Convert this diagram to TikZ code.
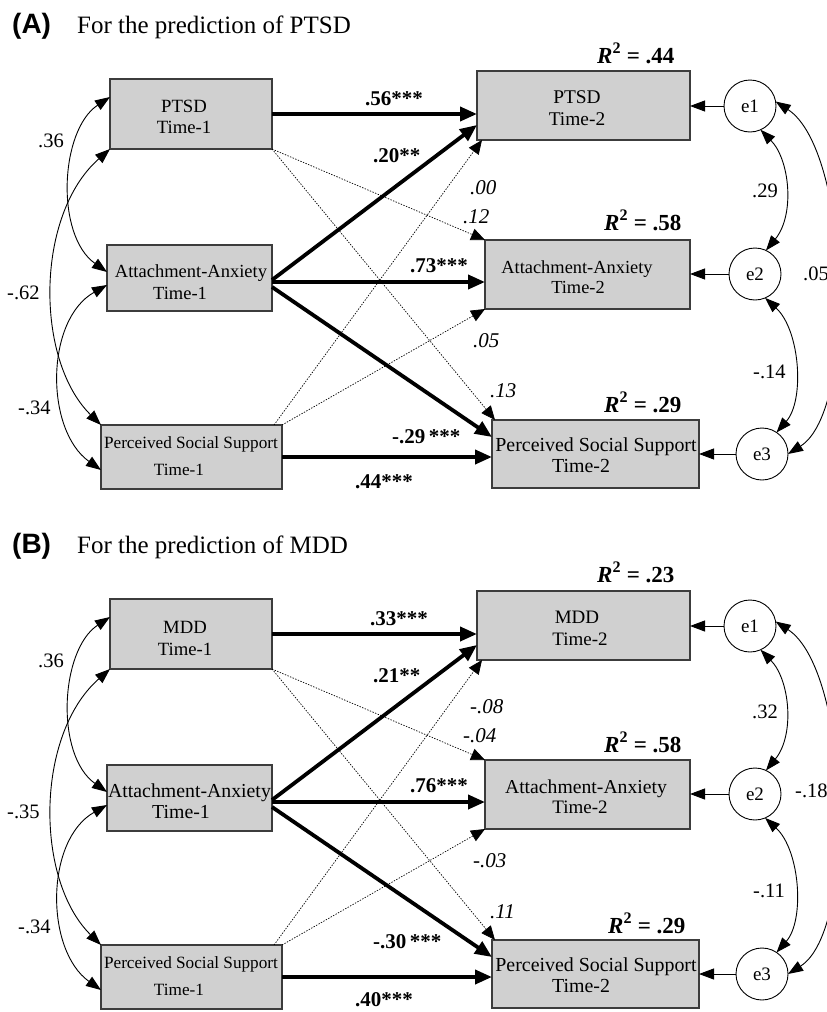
\documentclass[tikz,border=0pt]{standalone}
\usepackage{fontspec}
\setmainfont{Liberation Serif}
\newfontfamily\hvfont{Liberation Sans}
\usetikzlibrary{arrows.meta,calc}
\definecolor{boxfill}{RGB}{208,208,208}
\definecolor{boxline}{RGB}{60,60,60}
\tikzset{
 box/.style={draw=boxline, fill=boxfill, line width=1.2pt, inner sep=0pt, outer sep=0pt},
 err/.style={draw=black, line width=0.9pt, circle, minimum size=52pt, inner sep=0pt, outer sep=0pt, font=\fontsize{19}{19}\selectfont},
 txt/.style={anchor=base, inner sep=0pt, font=\fontsize{#1}{#1}\selectfont},
 lab/.style={anchor=base west, inner sep=0pt, font=\fontsize{#1}{#1}\selectfont},
 thickarr/.style={line width=3.8pt, -{Triangle[length=17pt,width=14pt]}},
 thinarr/.style={line width=0.9pt, -{Triangle[length=15pt,width=11pt]}},
 dotarr/.style={line width=0.7pt, dash pattern=on 1.4pt off 1.4pt, -{Triangle[length=14pt,width=12pt]}},
 corr/.style={line width=0.9pt, {Triangle[length=15pt,width=11pt]}-{Triangle[length=15pt,width=11pt]}},
}
\begin{document}
\begin{tikzpicture}[x=1pt,y=-1pt]
\useasboundingbox (0,0) rectangle (827,1012);
% ================= Panel A =================
\node[lab=28] (tA) at (12,33) {\hvfont\bfseries (A)};
\node[lab=25] (tAt) at (77,33) {For the prediction of PTSD};
% boxes
\node[box, minimum width=162pt, minimum height=70pt] (P1) at (191,114) {};
\node[box, minimum width=165pt, minimum height=66pt] (A1) at (189.5,278) {};
\node[box, minimum width=181pt, minimum height=64pt] (S1) at (191.5,457) {};
\node[box, minimum width=213pt, minimum height=69pt] (P2) at (583.5,105.5) {};
\node[box, minimum width=205pt, minimum height=69pt] (A2) at (587.5,274.5) {};
\node[box, minimum width=207pt, minimum height=68pt] (S2) at (595.5,454) {};
\node[txt=18.7] (P1a) at (184,112) {PTSD};
\node[txt=18.7] (P1b) at (184,133) {Time-1};
\node[txt=18.5] (A1a) at (191,277) {Attachment-Anxiety};
\node[txt=18.5] (A1b) at (180,299) {Time-1};
\node[txt=17.2] (S1a) at (191,448) {Perceived Social Support};
\node[txt=17.2] (S1b) at (179,475) {Time-1};
\node[txt=19.4] (P2a) at (577,103) {PTSD};
\node[txt=19.4] (P2b) at (577,125) {Time-2};
\node[txt=18.4] (A2a) at (577,273) {Attachment-Anxiety};
\node[txt=18.4] (A2b) at (578,293) {Time-2};
\node[txt=19.9] (S2a) at (596,451) {Perceived Social Support};
\node[txt=19.9] (S2b) at (581,472) {Time-2};
% error terms
\node[err] (e1) at (750,106) {e1};
\node[err] (e2) at (755,274) {e2};
\node[err] (e3) at (762,454) {e3};
% paths
\draw[thickarr] (P1.east) -- (P1.east -| P2.west);
\draw[thickarr] ([yshift=-2pt]A1.east) -- ([yshift=-19.5pt]P2.west);
\draw[thickarr] ([yshift=-4pt]A1.east) -- ([yshift=-4pt]A1.east -| A2.west);
\draw[thickarr] ([yshift=-9pt]A1.east) -- ([yshift=17pt]S2.west);
\draw[thickarr] (S1.east) -- (S1.east -| S2.west);
\draw[dotarr] (P1.south east) -- (A2.north west);
\draw[dotarr] (P1.south east) -- ([xshift=3pt]S2.north west);
\draw[dotarr] ([xshift=-8pt]S1.north east) -- ([xshift=5pt]P2.south west);
\draw[dotarr] (S1.north east) -- (A2.south west);
\draw[thinarr] (e1.west) -- (e1.west -| P2.east);
\draw[thinarr] (e2.west) -- (e2.west -| A2.east);
\draw[thinarr] (e3.west) -- (e3.west -| S2.east);
% correlations
\draw[corr] ([yshift=17pt]P1.west) .. controls (60,130) and (55,235) .. ([yshift=6pt]A1.west);
\draw[corr] (P1.south west) .. controls (35,215) and (35,360) .. (S1.north west);
\draw[corr] ([yshift=-7pt]A1.west) .. controls (45,320) and (45,430) .. ([yshift=-13pt]S1.west);
\draw[corr] (e1.-66) .. controls (790,160) and (795,215) .. (e2.65);
\draw[corr] (e2.-67) .. controls (800,330) and (805,400) .. (e3.56);
\draw[corr] (e1.10) .. controls (850,150) and (858,410) .. (e3.0);
% labels
\node[lab=21] (l56) at (365,105) {\bfseries .56***};
\node[lab=21] (l20) at (373,162) {\bfseries .20**};
\node[lab=21] (l73) at (410,272) {\bfseries .73***};
\node[lab=21] (l29) at (392,443) {\bfseries -.29\,***};
\node[lab=21] (l44) at (355,488) {\bfseries .44***};
\node[lab=21] (i00) at (470,194) {\itshape .00};
\node[lab=21] (i12) at (463,223) {\itshape .12};
\node[lab=21] (i05) at (473,347) {\itshape .05};
\node[lab=21] (i13) at (490,397) {\itshape .13};
\node[lab=20.5] (c36) at (38,147) {.36};
\node[lab=20.5] (c62) at (7,299) {-.62};
\node[lab=20.5] (c34) at (18,414) {-.34};
\node[lab=20.5] (c29) at (752,197) {.29};
\node[lab=20.5] (c14) at (753,378) {-.14};
\node[lab=20.5] (c05) at (803,280) {.05};
\node[lab=23] (r44) at (597,63) {\bfseries\textit{R}\textsuperscript{2} = .44};
\node[lab=23] (r58) at (604,230) {\bfseries\textit{R}\textsuperscript{2} = .58};
\node[lab=23] (r29) at (604,412) {\bfseries\textit{R}\textsuperscript{2} = .29};
% ================= Panel B =================
\begin{scope}[shift={(0,520)}]
\node[lab=28] (tB) at (12,33) {\hvfont\bfseries (B)};
\node[lab=25] (tBt) at (77,33) {For the prediction of MDD};
\node[box, minimum width=162pt, minimum height=70pt] (P1b) at (191,114) {};
\node[box, minimum width=165pt, minimum height=66pt] (A1b) at (189.5,278) {};
\node[box, minimum width=181pt, minimum height=64pt] (S1b) at (191.5,457) {};
\node[box, minimum width=213pt, minimum height=69pt] (P2b) at (583.5,105.5) {};
\node[box, minimum width=205pt, minimum height=69pt] (A2b) at (587.5,274.5) {};
\node[box, minimum width=207pt, minimum height=68pt] (S2b) at (595.5,454) {};
\node[txt=18.7] (P1ba) at (185,113) {MDD};
\node[txt=18.7] (P1bb) at (185,135) {Time-1};
\node[txt=19.8] (A1ba) at (189.5,277) {Attachment-Anxiety};
\node[txt=19.8] (A1bb) at (181,298) {Time-1};
\node[txt=17.2] (S1ba) at (191,448) {Perceived Social Support};
\node[txt=17.2] (S1bb) at (179,475) {Time-1};
\node[txt=19] (P2ba) at (577,103) {MDD};
\node[txt=19] (P2bb) at (580,125) {Time-2};
\node[txt=19.7] (A2ba) at (586,273) {Attachment-Anxiety};
\node[txt=19] (A2bb) at (580,293) {Time-2};
\node[txt=19.9] (S2ba) at (596,451) {Perceived Social Support};
\node[txt=19.9] (S2bb) at (581,472) {Time-2};
\node[err] (e1b) at (750,106) {e1};
\node[err] (e2b) at (755,274) {e2};
\node[err] (e3b) at (762,454) {e3};
\draw[thickarr] (P1b.east) -- (P1b.east -| P2b.west);
\draw[thickarr] ([yshift=-2pt]A1b.east) -- ([yshift=-19.5pt]P2b.west);
\draw[thickarr] ([yshift=-4pt]A1b.east) -- ([yshift=-4pt]A1b.east -| A2b.west);
\draw[thickarr] ([yshift=-9pt]A1b.east) -- ([yshift=17pt]S2b.west);
\draw[thickarr] (S1b.east) -- (S1b.east -| S2b.west);
\draw[dotarr] (P1b.south east) -- (A2b.north west);
\draw[dotarr] (P1b.south east) -- ([xshift=3pt]S2b.north west);
\draw[dotarr] ([xshift=-8pt]S1b.north east) -- ([xshift=5pt]P2b.south west);
\draw[dotarr] (S1b.north east) -- (A2b.south west);
\draw[thinarr] (e1b.west) -- (e1b.west -| P2b.east);
\draw[thinarr] (e2b.west) -- (e2b.west -| A2b.east);
\draw[thinarr] (e3b.west) -- (e3b.west -| S2b.east);
\draw[corr] ([yshift=17pt]P1b.west) .. controls (60,130) and (55,235) .. ([yshift=6pt]A1b.west);
\draw[corr] (P1b.south west) .. controls (35,215) and (35,360) .. (S1b.north west);
\draw[corr] ([yshift=-7pt]A1b.west) .. controls (45,320) and (45,430) .. ([yshift=-13pt]S1b.west);
\draw[corr] (e1b.-66) .. controls (790,160) and (795,215) .. (e2b.65);
\draw[corr] (e2b.-67) .. controls (800,330) and (805,400) .. (e3b.56);
\draw[corr] (e1b.10) .. controls (850,150) and (858,410) .. (e3b.0);
\node[lab=21] (l33) at (370,105) {\bfseries .33***};
\node[lab=21] (l21) at (373,162) {\bfseries .21**};
\node[lab=21] (l76) at (410,272) {\bfseries .76***};
\node[lab=21] (l30) at (373,428) {\bfseries -.30\,***};
\node[lab=21] (l40) at (355,486) {\bfseries .40***};
\node[lab=21] (i08) at (470,193) {\itshape -.08};
\node[lab=21] (i04) at (463,222) {\itshape -.04};
\node[lab=21] (i03) at (473,347) {\itshape -.03};
\node[lab=21] (i11) at (490,398) {\itshape .11};
\node[lab=20.5] (c36b) at (38,147) {.36};
\node[lab=20.5] (c35b) at (7,298) {-.35};
\node[lab=20.5] (c34b) at (18,413) {-.34};
\node[lab=20.5] (c32b) at (752,198) {.32};
\node[lab=20.5] (c11b) at (753,377) {-.11};
\node[lab=20.5] (c18b) at (795,277) {-.18};
\node[lab=23] (r23) at (597,62) {\bfseries\textit{R}\textsuperscript{2} = .23};
\node[lab=23] (r58b) at (604,232) {\bfseries\textit{R}\textsuperscript{2} = .58};
\node[lab=23] (r29b) at (608,413) {\bfseries\textit{R}\textsuperscript{2} = .29};
\end{scope}
\end{tikzpicture}
\end{document}
